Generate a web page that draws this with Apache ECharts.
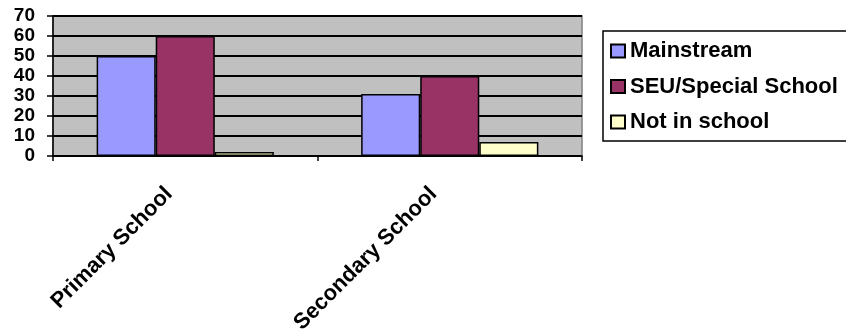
<!DOCTYPE html>
<html>
<head>
<meta charset="utf-8">
<script src="https://cdn.jsdelivr.net/npm/echarts@6/dist/echarts.min.js"></script>
<style>
  html, body { margin: 0; padding: 0; background: #ffffff; }
  #chart { width: 846px; height: 331px; }
</style>
</head>
<body>
<div id="chart"></div>
<script>
const categories = ["Primary School", "Secondary School"];
const mainstream = [50, 31];
const specialSchool = [60, 40];
const notInSchool = [2, 7];
const yTicks = [0, 10, 20, 30, 40, 50, 60, 70];

const font = '"Liberation Sans", Arial, sans-serif';
const chart = echarts.init(document.getElementById("chart"));

function barSeries(name, data, color) {
  return {
    name,
    type: "bar",
    data,
    barGap: "0%",
    barCategoryGap: "33%",
    itemStyle: { color, borderColor: "#000000", borderWidth: 1.5 },
  };
}

chart.setOption({
  animation: false,
  backgroundColor: "#ffffff",
  grid: {
    left: 53, right: 264, top: 16, bottom: 175,
    containLabel: false,
    outerBoundsMode: "none",
    show: true, backgroundColor: "#C0C0C0", borderColor: "#808080", borderWidth: 1.5,
  },
  legend: {
    orient: "vertical",
    left: 603,
    top: 31,
    padding: [9, 12, 8, 7],
    borderColor: "#000000",
    borderWidth: 1.5,
    itemWidth: 14,
    itemHeight: 13,
    itemGap: 13.5,
    icon: "rect",
    textStyle: { fontFamily: font, fontWeight: "bold", fontSize: 22, color: "#000", lineHeight: 22 },
  },
  xAxis: {
    type: "category",
    data: categories,
    axisLine: { lineStyle: { color: "#000", width: 1.5 } },
    axisTick: { show: true, length: 5, lineStyle: { color: "#000", width: 1.5 } },
    axisLabel: {
      rotate: 45,
      margin: 18.5,
      padding: [0, 23, 0, 0],
      fontFamily: font, fontWeight: "bold", fontSize: 22, color: "#000",
    },
  },
  yAxis: {
    type: "value",
    min: yTicks[0],
    max: yTicks[yTicks.length - 1],
    interval: 10,
    axisLine: { show: true, lineStyle: { color: "#000", width: 1.5 } },
    axisTick: { show: true, length: 6, lineStyle: { color: "#000", width: 1.5 } },
    splitLine: { lineStyle: { color: "#000", width: 2 } },
    axisLabel: { margin: 18, fontFamily: font, fontWeight: "bold", fontSize: 19, color: "#000" },
  },
  series: [
    barSeries("Mainstream", mainstream, "#9999FF"),
    barSeries("SEU/Special School", specialSchool, "#993366"),
    barSeries("Not in school", notInSchool, "#FFFFCC"),
  ],
});
</script>
</body>
</html>
